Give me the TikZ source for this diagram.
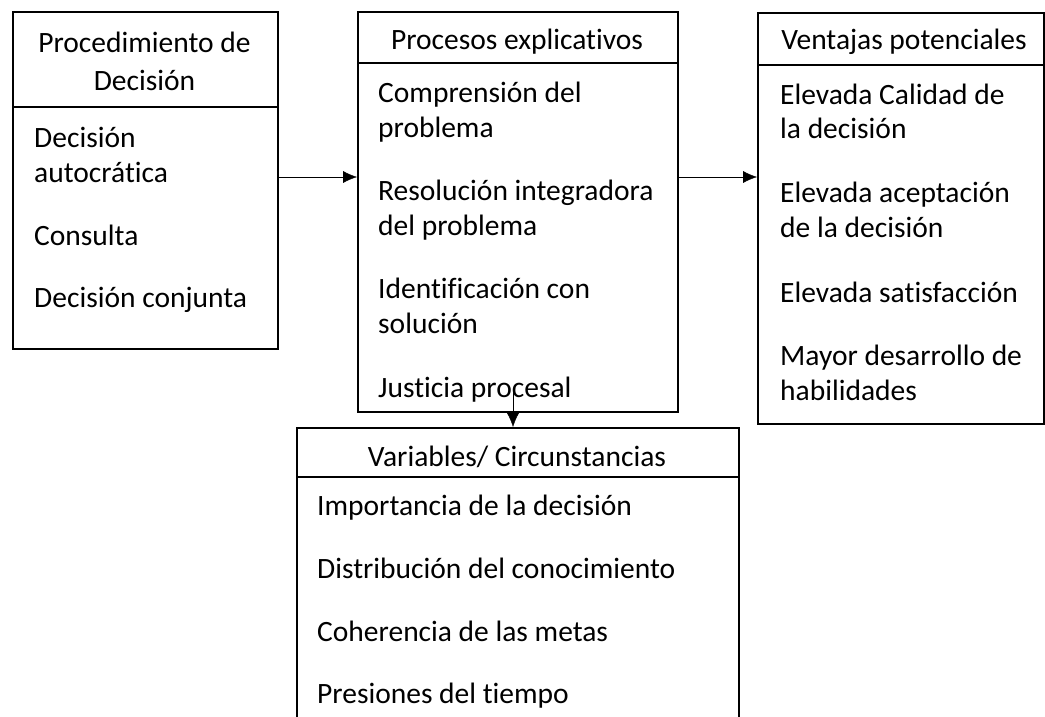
\documentclass[tikz,border=0pt]{standalone}
\usepackage{fontspec}
\setmainfont{Carlito}[Ligatures=CommonOff]
\usetikzlibrary{arrows.meta}
\begin{document}
\begin{tikzpicture}[x=1pt,y=-1pt,
  box/.style={draw, line width=1.6pt, inner sep=0pt, anchor=north west},
  sep/.style={line width=2.2pt},
  item/.style={anchor=base west, align=left, inner sep=0pt, font=\fontsize{29.5}{35}\selectfont},
  title/.style={align=center, inner sep=0pt, font=\fontsize{29.5}{38}\selectfont},
  >={Latex[length=14pt,width=12pt]}]
\useasboundingbox (0,0) rectangle (1045,717);
\clip (0,0) rectangle (1045,717);

%procedimiento
\node[box, minimum width=265pt, minimum height=337pt] (proc) at (12,11) {};
\draw[sep] (proc.west |- 0,107) -- (proc.east |- 0,107);
\node[title] (procT) at (144.5,61) {Procedimiento de\\Decisión};
\node[item] (proc1) at (34,182) {Decisión\\autocrática};
\node[item] (proc2) at (34,245) {Consulta};
\node[item] (proc3) at (34,307) {Decisión conjunta};

%procesos
\node[box, minimum width=320pt, minimum height=400pt] (expl) at (357,11) {};
\draw[sep] (expl.west |- 0,63) -- (expl.east |- 0,63);
\node[title, anchor=base] (explT) at (517,50) {Procesos explicativos};
\node[item] (expl1) at (378,137) {Comprensión del\\problema};
\node[item] (expl2) at (378,235) {Resolución integradora\\del problema};
\node[item] (expl3) at (378,333) {Identificación con\\solución};
\node[item] (expl4) at (378,397) {Justicia procesal};

%ventajas
\node[box, minimum width=286pt, minimum height=411pt] (vent) at (757,12) {};
\draw[sep] (vent.west |- 0,65) -- (vent.east |- 0,65);
\node[title, anchor=base] (ventT) at (904,50) {Ventajas potenciales};
\node[item] (vent1) at (780,139) {Elevada Calidad de\\la decisión};
\node[item] (vent2) at (780,237) {Elevada aceptación\\de la decisión};
\node[item] (vent3) at (780,302) {Elevada satisfacción};
\node[item] (vent4) at (780,400) {Mayor desarrollo de\\habilidades};

%variables
\node[box, minimum width=442pt, minimum height=340pt] (vars) at (296,427) {};
\draw[sep] (vars.west |- 0,477) -- (vars.east |- 0,477);
\node[title, anchor=base] (varsT) at (517,466) {Variables/ Circunstancias};
\node[item] (vars1) at (317,515) {Importancia de la decisión};
\node[item] (vars2) at (317,578) {Distribución del conocimiento};
\node[item] (vars3) at (317,641) {Coherencia de las metas};
\node[item] (vars4) at (317,703) {Presiones del tiempo};

%arrows
\coordinate (jstart) at (513,392);
\draw[->] (proc.east |- 0,177) -- (expl.west |- 0,177);
\draw[->] (expl.east |- 0,177) -- (vent.west |- 0,177);
\draw[->] (jstart) -- (vars.north -| jstart);
\end{tikzpicture}
\end{document}
